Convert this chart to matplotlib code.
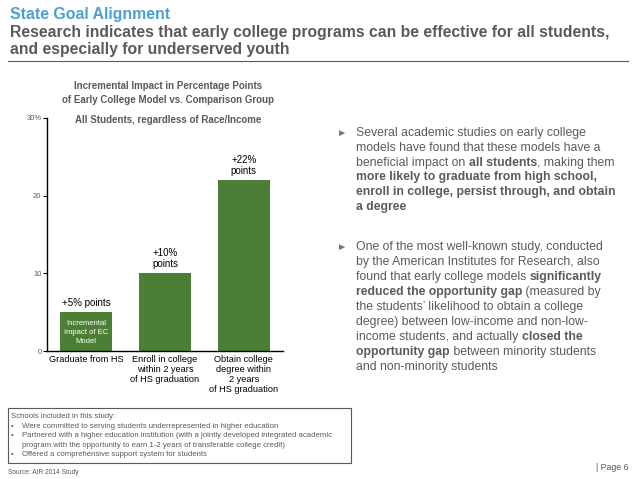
import matplotlib
matplotlib.use("Agg")
import matplotlib.pyplot as plt
from matplotlib.patches import Rectangle

plt.rcParams['font.family'] = ['Liberation Sans', 'DejaVu Sans']

# data
categories = ["Graduate from HS",
              "Enroll in college\nwithin 2 years\nof HS graduation",
              "Obtain college\ndegree within\n2 years\nof HS graduation"]
impact = [5, 10, 22]
bar_labels = ["+5% points", "+10%\npoints", "+22%\npoints"]
yticks = [0, 10, 20, 30]
ytick_labels = ["0", "10", "20", "30%"]

bullet1 = [
    [("Several academic studies on early college", False)],
    [("models have found that these models have a", False)],
    [("beneficial impact on ", False), ("all students", True), (", making them", False)],
    [("more likely to graduate from high school,", True)],
    [("enroll in college, persist through, and obtain", True)],
    [("a degree", True)],
]
bullet2 = [
    [("One of the most well-known study, conducted", False)],
    [("by the American Institutes for Research, also", False)],
    [("found that early college models ", False), ("significantly", True)],
    [("reduced the opportunity gap", True), (" (measured by", False)],
    [("the students\u2019 likelihood to obtain a college", False)],
    [("degree) between low-income and non-low-", False)],
    [("income students, and actually ", False), ("closed the", True)],
    [("opportunity gap", True), (" between minority students", False)],
    [("and non-minority students", False)],
]
box_title = "Schools included in this study:"
box_bullets = [
    ["Were committed to serving students underrepresented in higher education"],
    ["Partnered with a higher education institution (with a jointly developed integrated academic",
     "program with the opportunity to earn 1-2 years of transferable college credit)"],
    ["Offered a comprehensive support system for students"],
]

W, H = 638, 479
GRAY = "#5a5a5a"
GREEN = "#4a7f35"


def px(x, y):
    return x / W, 1 - y / H


fig = plt.figure(figsize=(W / 100, H / 100), dpi=100)

# header
fig.text(*px(10, 14), "State Goal Alignment", color="#4aa0d5", fontsize=11.4,
         fontweight="bold", va="center")
fig.text(*px(10, 32), "Research indicates that early college programs can be effective for all students,",
         color=GRAY, fontsize=11.3, fontweight="bold", va="center")
fig.text(*px(10, 49.5), "and especially for underserved youth",
         color=GRAY, fontsize=11.3, fontweight="bold", va="center")
fig.add_artist(plt.Line2D([8 / W, 628 / W], [1 - 61 / H, 1 - 61 / H], color=GRAY, lw=0.8))

# chart
ax = fig.add_axes([47 / W, 1 - 351 / H, (283 - 47) / W, (351 - 118) / H])
x = range(len(impact))
ax.bar(x, impact, width=0.66, color=GREEN)
ax.set_xlim(-0.5, 2.5)
ax.set_ylim(0, 30)
ax.set_yticks(yticks)
ax.set_yticklabels(ytick_labels, fontsize=5.5, color=GRAY)
ax.set_xticks(list(x))
ax.set_xticklabels(categories, fontsize=6.6, va="top", linespacing=1.15)
ax.tick_params(axis="x", length=0, pad=3)
ax.tick_params(axis="y", length=3, width=0.8, pad=1)
for s in ["top", "right"]:
    ax.spines[s].set_visible(False)
for s in ["left", "bottom"]:
    ax.spines[s].set_linewidth(1.0)

for i, (v, lab) in enumerate(zip(impact, bar_labels)):
    ax.annotate(lab, (i, v), xytext=(0, 3), textcoords="offset points",
                ha="center", va="bottom", fontsize=7, linespacing=1.1)
ax.text(0, 2.4, "Incremental\nImpact of EC\nModel", ha="center", va="center",
        color="white", fontsize=5.5, linespacing=1.35)

fig.text(*px(168, 93), "Incremental Impact in Percentage Points\nof Early College Model vs. Comparison Group",
         ha="center", va="center", fontsize=7, fontweight="bold", color=GRAY, linespacing=1.4)
fig.text(*px(168, 120), "All Students, regardless of Race/Income", ha="center", va="center",
         fontsize=7, fontweight="bold", color=GRAY)

# right bullets
fig.canvas.draw()
renderer = fig.canvas.get_renderer()


def draw_lines(lines, y0, step):
    for k, segs in enumerate(lines):
        xx = 356
        y = y0 + k * step
        for txt, bold in segs:
            t = fig.text(*px(xx, y), txt, fontsize=8.8, color=GRAY,
                         fontweight="bold" if bold else "normal", va="center")
            xx += t.get_window_extent(renderer).width


fig.text(*px(337, 133), "\u25ba", fontsize=7.5, color="#777777", va="center")
draw_lines(bullet1, 133, 14.8)
fig.text(*px(337, 247), "\u25ba", fontsize=7.5, color="#777777", va="center")
draw_lines(bullet2, 247, 15)

# bottom box
fig.add_artist(Rectangle(px(8, 463), (351 - 8) / W, (463 - 408) / H, transform=fig.transFigure,
                         fill=False, edgecolor=GRAY, lw=0.8))
yy = 416.5
fig.text(*px(11, yy), box_title, fontsize=5.6, color=GRAY, va="center")
for item in box_bullets:
    for j, line in enumerate(item):
        yy += 9.6
        if j == 0:
            fig.text(*px(11, yy), "\u2022", fontsize=5.6, color=GRAY, va="center")
        fig.text(*px(22, yy), line, fontsize=5.6, color=GRAY, va="center")
fig.text(*px(8, 473), "Source: AIR 2014 Study", fontsize=4.8, color=GRAY, va="center")
fig.text(*px(628, 467), "| Page 6", fontsize=6.3, color=GRAY, va="center", ha="right")

fig.savefig("out.png", dpi=100)
